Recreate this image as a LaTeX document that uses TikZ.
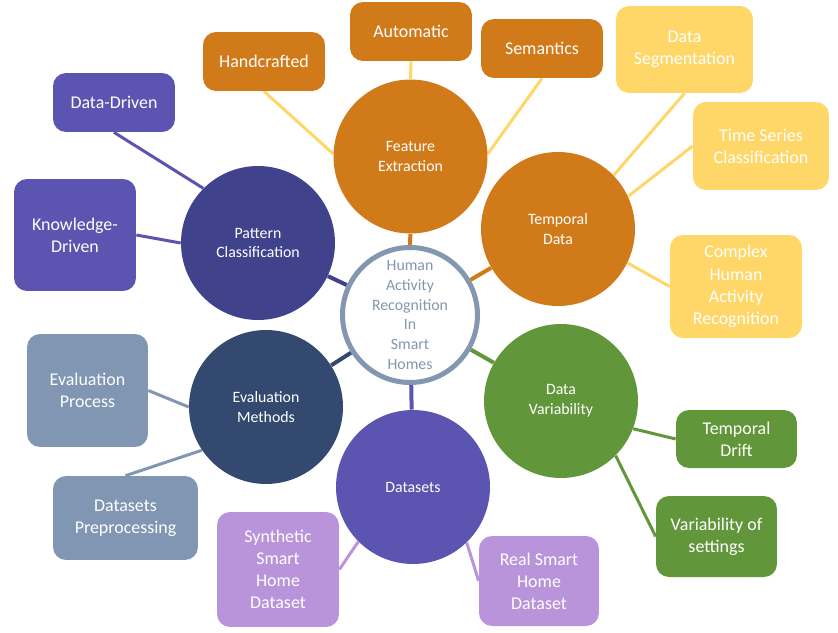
\documentclass[tikz,border=0pt]{standalone}
\usepackage{fontspec}
\setmainfont{Carlito}
\usetikzlibrary{backgrounds}

\definecolor{orng}{RGB}{209,122,26}
\definecolor{yell}{RGB}{255,214,104}
\definecolor{navy}{RGB}{51,73,112}
\definecolor{indg}{RGB}{64,66,140}
\definecolor{purp}{RGB}{91,84,176}
\definecolor{lilac}{RGB}{185,148,218}
\definecolor{grn}{RGB}{98,150,59}
\definecolor{slate}{RGB}{128,150,178}
\definecolor{hubc}{RGB}{132,151,176}

\tikzset{
  topic/.style={circle,minimum size=3.08cm,inner sep=0pt,text=white,align=center,
    font=\fontsize{9}{11.3}\selectfont},
  leaf/.style 2 args={rounded corners=0.26cm,inner sep=0pt,text=white,align=center,
    minimum width=#1,minimum height=#2,font=\fontsize{10.2}{12.6}\selectfont},
  link/.style={line width=0.06cm},
  spoke/.style={line width=0.08cm}
}

\begin{document}
\begin{tikzpicture}[x=0.02cm,y=-0.02cm]
\useasboundingbox (0,0) rectangle (838,632);

% centre and topics
\node[circle,draw=hubc,line width=0.1cm,fill=white,minimum size=2.7cm,inner sep=0pt,
  text=hubc,align=center,font=\fontsize{9}{11.3}\selectfont] (hub) at (410,315)
  {Human\\Activity\\Recognition\\In\\Smart\\Homes};
\node[topic,fill=orng] (fe) at (410.5,156.5) {Feature\\Extraction};
\node[topic,fill=orng] (td) at (558,229) {Temporal\\Data};
\node[topic,fill=indg] (pc) at (258,243) {Pattern\\Classification};
\node[topic,fill=navy] (em) at (266,407) {Evaluation\\Methods};
\node[topic,fill=purp] (ds) at (413,487) {Datasets};
\node[topic,fill=grn] (dv) at (561,401) {Data\\Variability};

% leaves
\node[leaf={2.44cm}{1.18cm},fill=purp] (ddr) at (114,102.5) {Data-Driven};
\node[leaf={2.44cm}{2.24cm},fill=purp] (kdr) at (75,235) {Knowledge-\\Driven};
\node[leaf={2.44cm}{1.18cm},fill=orng] (hand) at (264,61.5) {Handcrafted};
\node[leaf={2.44cm}{1.18cm},fill=orng] (auto) at (411,31.5) {Automatic};
\node[leaf={2.44cm}{1.18cm},fill=orng] (sem) at (542,48.5) {Semantics};
\node[leaf={2.74cm}{1.74cm},fill=yell] (seg) at (684.5,49.5) {Data\\Segmentation};
\node[leaf={2.72cm}{1.76cm},fill=yell] (tsc) at (761,146) {Time Series\\Classification};
\node[leaf={2.64cm}{2.06cm},fill=yell] (char) at (736,286.5) {Complex\\Human\\Activity\\Recognition};
\node[leaf={2.42cm}{2.26cm},fill=slate] (evp) at (87.5,390.5) {Evaluation\\Process};
\node[leaf={2.90cm}{1.68cm},fill=slate] (dpp) at (125.5,518) {Datasets\\Preprocessing};
\node[leaf={2.44cm}{2.30cm},fill=lilac] (ssh) at (278,569.5) {Synthetic\\Smart\\Home\\Dataset};
\node[leaf={2.40cm}{1.80cm},fill=lilac] (rsh) at (539,581) {Real Smart\\Home\\Dataset};
\node[leaf={2.42cm}{1.16cm},fill=grn] (tdr) at (736.5,439) {Temporal\\Drift};
\node[leaf={2.42cm}{1.62cm},fill=grn] (vos) at (716.5,536.5) {Variability of\\settings};

\begin{scope}[on background layer]
\draw[spoke,orng] (hub) -- (fe);
\draw[spoke,orng] (hub) -- (td);
\draw[spoke,indg] (hub) -- (pc);
\draw[spoke,navy] (hub) -- (em);
\draw[spoke,purp] (hub) -- (ds);
\draw[spoke,grn] (hub) -- (dv);

\draw[link,purp] (ddr.south) -- (pc.135);
\draw[link,purp] (kdr.east) -- (pc.180);
\draw[link,yell] (hand.south) -- (fe.178);
\draw[link,yell] (auto.south) -- (fe.north);
\draw[link,yell] (sem.south) -- (fe.2);
\draw[link,yell] (seg.south) -- (td.44);
\draw[link,yell] (tsc.west) -- (td.25);
\draw[link,yell] (char.west) -- (td.334);
\draw[link,slate] (evp.east) -- (em.180);
\draw[link,slate] (dpp.north) -- (em.214);
\draw[link,lilac] (ssh.east) -- (ds.225);
\draw[link,lilac] (rsh.west) -- (ds.314);
\draw[link,grn] (tdr.west) -- (dv.339);
\draw[link,grn] (vos.west) -- (dv.315);
\end{scope}

\end{tikzpicture}
\end{document}
